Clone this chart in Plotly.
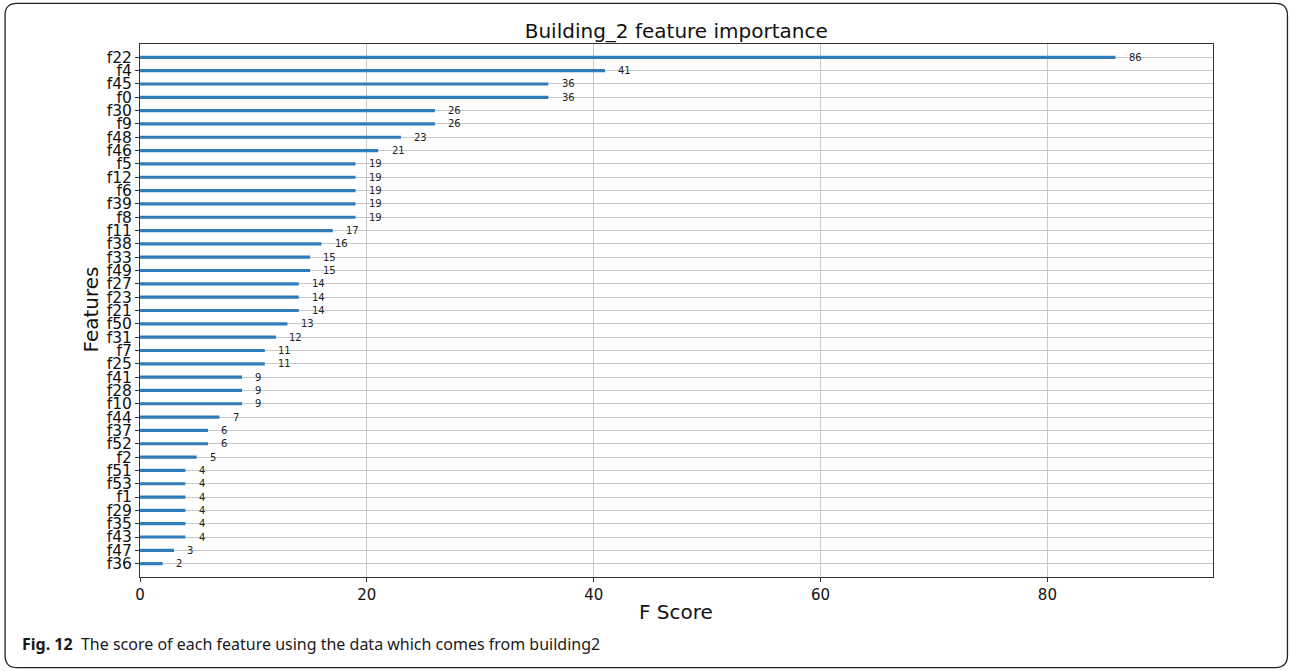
import plotly.graph_objects as go

# Feature importance scores (F score), listed from highest to lowest
features = ["f22", "f4", "f45", "f0", "f30", "f9", "f48", "f46", "f5", "f12",
            "f6", "f39", "f8", "f11", "f38", "f33", "f49", "f27", "f23", "f21",
            "f50", "f31", "f7", "f25", "f41", "f28", "f10", "f44", "f37", "f52",
            "f2", "f51", "f53", "f1", "f29", "f35", "f43", "f47", "f36"]
scores = [86, 41, 36, 36, 26, 26, 23, 21, 19, 19,
          19, 19, 19, 17, 16, 15, 15, 14, 14, 14,
          13, 12, 11, 11, 9, 9, 9, 7, 6, 6,
          5, 4, 4, 4, 4, 4, 4, 3, 2]
x_ticks = [0, 20, 40, 60, 80]

# bottom-to-top order on the category axis
order = features[::-1]
n = len(features)

W, H = 1290, 671
L, R, T, B = 139.5, 77, 43.7, 93.7
pw, ph = W - L - R, H - T - B


def px(x):
    return (x - L) / pw


def py(y):
    return (H - B - y) / ph


BAR = "#2f7cb8"
GRID = "#c8c8c8"
AX = "#333333"
FONT = "DejaVu Sans"

fig = go.Figure()
fig.add_trace(go.Bar(
    x=scores, y=features, orientation="h", width=0.24,
    marker=dict(color=BAR, line=dict(width=0)),
    hoverinfo="x+y",
))

# value labels just right of each bar
annotations = []
for f, s in zip(features, scores):
    annotations.append(dict(
        x=s + 1, y=f, xref="x", yref="y", text=str(s), showarrow=False,
        xanchor="left", yanchor="middle",
        font=dict(family=FONT, size=10, color="#222222"),
    ))

# axis titles
annotations.append(dict(
    x=px(676), y=py(612), xref="paper", yref="paper", text="F Score",
    showarrow=False, xanchor="center", yanchor="middle",
    font=dict(family=FONT, size=20, color="#111111"),
))
annotations.append(dict(
    x=px(90), y=py(310), xref="paper", yref="paper", text="Features",
    showarrow=False, xanchor="center", yanchor="middle", textangle=-90,
    font=dict(family=FONT, size=20, color="#111111"),
))

# figure caption
annotations.append(dict(
    x=px(19), y=py(644), xref="paper", yref="paper",
    text="<b>Fig. 12</b>  The score of each feature using the data which comes from building2",
    showarrow=False, xanchor="left", yanchor="middle",
    font=dict(family="Noto Sans", size=16, color="#1a1a1a"),
))

# rounded outer frame
x0, x1, y0, y1, r = 4.5, 1287.5, 3.0, 668.0, 12
path = (
    f"M {px(x0 + r)} {py(y0)} L {px(x1 - r)} {py(y0)} "
    f"Q {px(x1)} {py(y0)} {px(x1)} {py(y0 + r)} "
    f"L {px(x1)} {py(y1 - r)} "
    f"Q {px(x1)} {py(y1)} {px(x1 - r)} {py(y1)} "
    f"L {px(x0 + r)} {py(y1)} "
    f"Q {px(x0)} {py(y1)} {px(x0)} {py(y1 - r)} "
    f"L {px(x0)} {py(y0 + r)} "
    f"Q {px(x0)} {py(y0)} {px(x0 + r)} {py(y0)} Z"
)

fig.update_layout(
    width=W, height=H,
    margin=dict(l=L, r=R, t=T, b=B, autoexpand=False),
    paper_bgcolor="white", plot_bgcolor="white",
    showlegend=False,
    title=dict(
        text="Building_2 feature importance",
        x=px(676), xref="paper", xanchor="center",
        y=1 - 31 / H, yref="container", yanchor="middle",
        font=dict(family=FONT, size=20, color="#111111"),
    ),
    xaxis=dict(
        range=[0, max(scores) * 1.1], tickvals=x_ticks,
        showgrid=True, gridcolor=GRID, gridwidth=1.2,
        zeroline=False,
        showline=True, linecolor=AX, linewidth=1, mirror=True,
        ticks="outside", ticklen=4, tickcolor=AX,
        tickfont=dict(family=FONT, size=15, color="#111111"),
    ),
    yaxis=dict(
        type="category", categoryorder="array", categoryarray=order,
        range=[-1, n], tickmode="array", tickvals=order,
        showgrid=True, gridcolor=GRID, gridwidth=1.2,
        zeroline=False,
        showline=True, linecolor=AX, linewidth=1, mirror=True,
        ticks="outside", ticklen=4, tickcolor=AX,
        tickfont=dict(family=FONT, size=15.5, color="#111111"),
    ),
    annotations=annotations,
    shapes=[dict(type="path", path=path, xref="paper", yref="paper",
                 line=dict(color="#222222", width=1.3), layer="above")],
)

fig.write_html("out.html")
